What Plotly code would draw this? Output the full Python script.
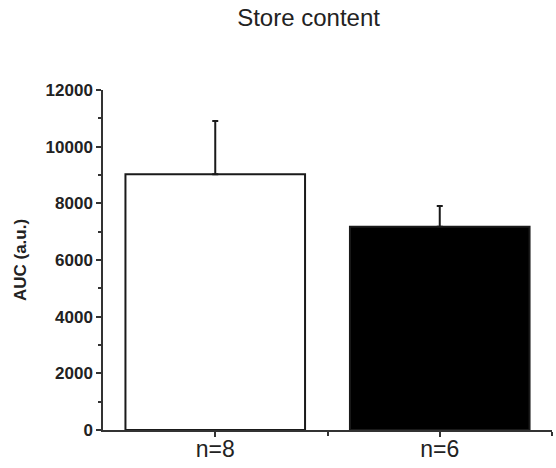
import plotly.graph_objects as go

groups = ['n=8', 'n=6']
auc = [9030, 7170]
auc_err = [1880, 740]
fills = ['white', 'black']

xpos = list(range(len(groups)))

fig = go.Figure()
fig.add_trace(go.Bar(
    x=xpos, y=auc, width=0.8,
    marker=dict(color=fills, line=dict(color='#1a1a1a', width=2)),
    error_y=dict(type='data', array=auc_err, arrayminus=[0] * len(auc),
                 symmetric=False, color='#1a1a1a', thickness=2, width=3),
))

fig.update_layout(
    width=556, height=468,
    paper_bgcolor='white', plot_bgcolor='white',
    margin=dict(l=103, r=4, t=90, b=38),
    font=dict(family='Liberation Sans, Arial', color='black'),
    title=dict(text='Store content', x=0.555, xanchor='center', y=0.962,
               yanchor='middle', font=dict(size=24, color='#222')),
    showlegend=False,
)
fig.update_xaxes(
    range=[-0.5, 1.5], tickvals=xpos, ticktext=groups, automargin=False,
    showline=True, linecolor='#333', linewidth=1.5,
    ticks='outside', ticklen=5, tickwidth=1.5, tickcolor='#333',
    tickfont=dict(size=23, color='#222'), ticklabelstandoff=-7,
    minor=dict(tickvals=[0.5, 1.5], ticks='outside', ticklen=4,
               tickwidth=1.5, tickcolor='#333'),
    showgrid=False, zeroline=False,
)
fig.update_yaxes(
    range=[0, 12000], dtick=2000, tickformat='d', automargin=False,
    showline=True, linecolor='#333', linewidth=1.5,
    ticks='outside', ticklen=5, tickwidth=1.5, tickcolor='#333',
    tickfont=dict(size=17, color='#222', weight='bold'),
    minor=dict(dtick=1000, ticks='outside', ticklen=3,
               tickwidth=1.5, tickcolor='#333'),
    title=dict(text='AUC (a.u.)', font=dict(size=17, weight='bold', color='#222'),
               standoff=15),
    showgrid=False, zeroline=False,
)

fig.write_html('out.html', config={'displayModeBar': False},
               post_script="document.body.style.margin='0';")
